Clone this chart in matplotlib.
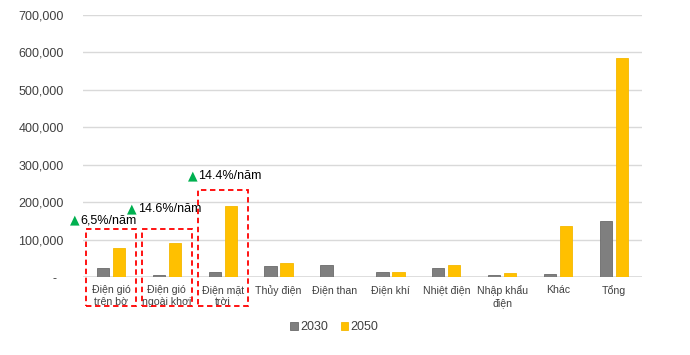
import matplotlib.pyplot as plt
import matplotlib.transforms as mtransforms
from matplotlib.patches import Rectangle
import numpy as np

plt.rcParams['font.family'] = ['Liberation Sans', 'DejaVu Sans']

categories = ['Điện gió\ntrên bờ', 'Điện gió\nngoài khơi', 'Điện mặt\ntrời', 'Thủy điện',
              'Điện than', 'Điện khí', 'Nhiệt điện', 'Nhập khẩu\nđiện', 'Khác', 'Tổng']
v2030 = [23000, 5500, 12500, 29000, 31000, 14500, 23000, 5000, 7000, 150000]
v2050 = [78000, 92000, 189000, 37000, 0, 14500, 31000, 10000, 135000, 584000]

growth_labels = ['6,5%/năm', '14.6%/năm', '14.4%/năm']
growth_x = [-0.73, 0.29, 1.38]
growth_y = [152000, 182000, 270000]

yticks = np.arange(0, 700001, 100000)
yticklabels = ['-  '] + [f'{v:,}' for v in yticks[1:]]

fig = plt.figure(figsize=(6.9, 3.55), dpi=100)
ax = fig.add_axes([0.1203, 0.2197, 0.81, 0.739])

x = np.arange(len(categories))
w = 0.22
ax.bar(x - w / 2 - 0.033, v2030, w, color='#7f7f7f', edgecolor='#6b6b6b', linewidth=0.6, label='2030', zorder=3)
ax.bar(x + w / 2 + 0.033, v2050, w, color='#ffc000', edgecolor='#f5b800', linewidth=0.6, label='2050', zorder=3)

ax.set_xlim(-0.5, len(categories) - 0.5)
ax.set_ylim(0, 700000)
ax.set_yticks(yticks)
ax.set_yticklabels(yticklabels, fontsize=9, color='#404040')
ax.set_xticks(x)
ax.set_xticklabels(categories, fontsize=7.6, color='#404040', linespacing=1.25)
ax.tick_params(length=0, pad=6)
ax.tick_params(axis='y', pad=14)
ax.grid(axis='y', color='#d9d9d9', linewidth=1, zorder=0)
for s in ax.spines.values():
    s.set_visible(False)
ax.axhline(0, color='#d9d9d9', linewidth=1.2, zorder=2)

# red dashed boxes around the first three groups
trans = mtransforms.blended_transform_factory(ax.transData, ax.transAxes)
box_tops = [0.183, 0.183, 0.331]
for i, top in enumerate(box_tops):
    ax.add_patch(Rectangle((i - 0.447, -0.11), 0.894, top + 0.11, transform=trans,
                           fill=False, edgecolor='#ff0000', linestyle=(0, (3, 2)),
                           linewidth=1.3, clip_on=False, zorder=4))

for gx, gy, lab in zip(growth_x, growth_y, growth_labels):
    ax.text(gx, gy, '▲', color='#00b050', fontsize=9, ha='left', va='center',
            family=['DejaVu Sans'], clip_on=False)
    ax.annotate(lab, (gx, gy), xytext=(7.5, 0), textcoords='offset points',
                fontsize=9, ha='left', va='center', color='#000000',
                annotation_clip=False)

ax.legend(loc='upper center', bbox_to_anchor=(0.45, -0.125), ncol=2, frameon=False,
          fontsize=9, handlelength=0.6, handleheight=0.6, handletextpad=0.2,
          columnspacing=1.0, labelcolor='#404040')

fig.savefig('out.png', dpi=100)
